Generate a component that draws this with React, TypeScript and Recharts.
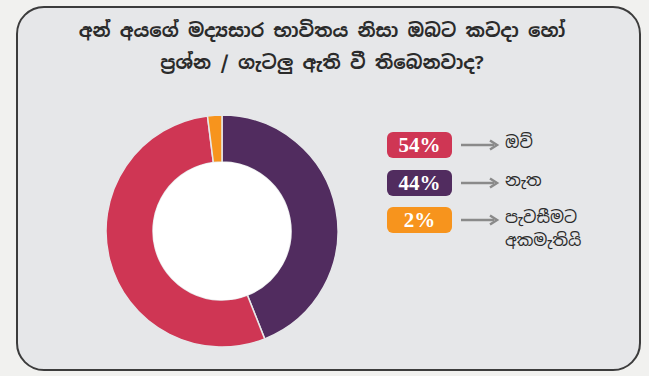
import { PieChart, Pie, Cell } from "recharts";

const TITLE_LINES = [
  "අන් අයගේ මද්‍යසාර භාවිතය නිසා ඔබට කවදා හෝ",
  "ප්‍රශ්න / ගැටලු ඇති වී තිබෙනවාද?",
];

// order as drawn clockwise from 12 o'clock
const answers = ["නැත", "ඔව්", "පැවසීමට අකමැතියි"];
const shares = [44, 54, 2];
const colors = ["#512c5f", "#cf3654", "#f7941d"];

// legend order
const legendOrder = [1, 0, 2];
const legendLabels = [["ඔව්"], ["නැත"], ["පැවසීමට", "අකමැතියි"]];

const pieData = answers.map((name, i) => ({ name, value: shares[i] }));
const holeData = [{ name: "hole", value: 1 }];

const SINHALA = '"Noto Sans Sinhala", "Iskoola Pota", "Noto Sans", "DejaVu Sans", sans-serif';

export default function App() {
  return (
    <div
      style={{
        position: "absolute",
        left: 0,
        top: 0,
        width: 649,
        height: 376,
        background: "#f1f1ef",
        overflow: "hidden",
      }}
    >
      <div
        style={{
          position: "absolute",
          left: 16,
          top: 6,
          width: 621,
          height: 361,
          border: "2.5px solid #3c3c3c",
          borderRadius: 28,
          background: "#e6e7e9",
        }}
      />
      <div
        style={{
          position: "absolute",
          left: 0,
          top: 14,
          width: 644,
          textAlign: "center",
          fontFamily: SINHALA,
          fontWeight: 700,
          fontSize: 18.5,
          lineHeight: "32px",
          color: "#2b2b2b",
        }}
      >
        {TITLE_LINES.map((t) => (
          <div key={t}>{t}</div>
        ))}
      </div>

      <div style={{ position: "absolute", left: 0, top: 0 }}>
        <PieChart width={649} height={376} margin={{ top: 0, right: 0, bottom: 0, left: 0 }}>
          <Pie
            data={pieData}
            dataKey="value"
            nameKey="name"
            cx={222}
            cy={231}
            innerRadius={69}
            outerRadius={116}
            startAngle={90}
            endAngle={-270}
            stroke="#e6e7e9"
            strokeWidth={1.5}
            isAnimationActive={false}
          >
            {pieData.map((_, i) => (
              <Cell key={i} fill={colors[i]} />
            ))}
          </Pie>
          <Pie
            data={holeData}
            dataKey="value"
            cx={222}
            cy={231}
            innerRadius={0}
            outerRadius={69}
            fill="#ffffff"
            stroke="none"
            isAnimationActive={false}
          />
        </PieChart>
      </div>

      {legendOrder.map((idx, row) => {
        const top = 132 + row * 37.5;
        return (
          <div key={idx}>
            <div
              style={{
                position: "absolute",
                left: 387,
                top,
                width: 65,
                height: 26,
                borderRadius: 6,
                background: colors[idx],
                color: "#ffffff",
                fontFamily: '"Liberation Serif", "DejaVu Serif", serif',
                fontWeight: 700,
                fontSize: 21,
                lineHeight: "27px",
                textAlign: "center",
              }}
            >
              {shares[idx]}%
            </div>
            <svg
              style={{ position: "absolute", left: 460, top: top + 7 }}
              width={40}
              height={12}
            >
              <line x1={1} y1={6} x2={34} y2={6} stroke="#8a8a8a" strokeWidth={2.5} />
              <path d="M30,1.5 L37,6 L30,10.5" fill="none" stroke="#8a8a8a" strokeWidth={2.5} />
            </svg>
            <div
              style={{
                position: "absolute",
                left: 505,
                top: top - 1,
                fontFamily: SINHALA,
                fontSize: 16.5,
                lineHeight: "23px",
                color: "#2b2b2b",
              }}
            >
              {legendLabels[row].map((l) => (
                <div key={l}>{l}</div>
              ))}
            </div>
          </div>
        );
      })}
    </div>
  );
}
